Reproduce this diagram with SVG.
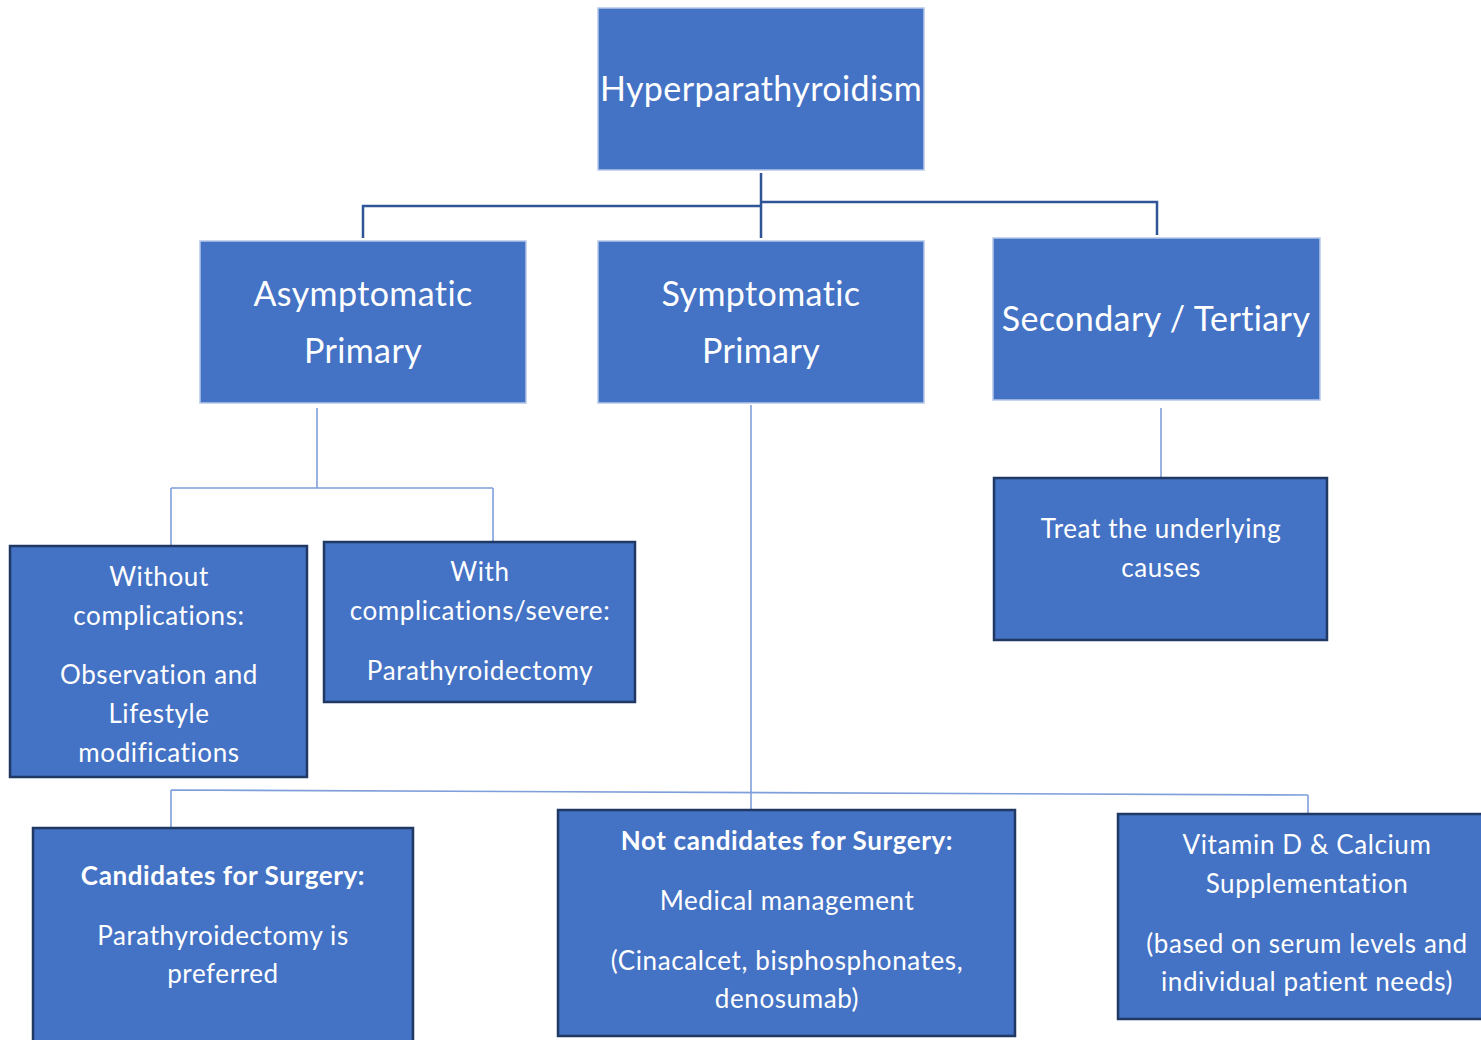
<svg xmlns="http://www.w3.org/2000/svg" width="1481" height="1040" viewBox="0 0 1481 1040">
<style>
.top{fill:#4472C4;stroke:#B4C7E7;stroke-width:1.5}
.box{fill:#4472C4;stroke:#1F3864;stroke-width:2.5}
text{font-family:Lato,"Open Sans",sans-serif;fill:#fff;text-anchor:middle}
.t1{font-size:34px;letter-spacing:0.4px}
.t2{font-size:26px;letter-spacing:0.6px}
.b{font-weight:bold}
.dk{stroke:#2F5597;stroke-width:2.5;fill:none}
.lt{stroke:#7F9FDA;stroke-width:1.6;fill:none}
</style>
<rect width="1481" height="1040" fill="#fff"/>
<g id="connectors">
<path class="dk" d="M761,173V238M761,206H363V238M761,202H1157V235"/>
<path class="lt" d="M317,408V488M171,488H493M171,488V546M493,488V541"/>
<path class="lt" d="M1161,408V478"/>
<path class="lt" d="M751,405V810"/>
<path class="lt" d="M171,790L1308,795M171,790V828M1308,795V813"/>
</g>
<g id="hyper"><rect class="top" x="598" y="8" width="326" height="162"/><text class="t1" x="761" y="101">Hyperparathyroidism</text></g>
<g id="asym"><rect class="top" x="200" y="241" width="326" height="162"/><text class="t1" x="363" y="306">Asymptomatic</text><text class="t1" x="363" y="363">Primary</text></g>
<g id="sym"><rect class="top" x="598" y="241" width="326" height="162"/><text class="t1" x="761" y="306">Symptomatic</text><text class="t1" x="761" y="363">Primary</text></g>
<g id="sec"><rect class="top" x="993" y="238" width="327" height="162"/><text class="t1" x="1156" y="331">Secondary / Tertiary</text></g>
<g id="without"><rect class="box" x="10" y="546" width="297" height="231"/><text class="t2" x="159" y="586">Without</text><text class="t2" x="159" y="625">complications:</text><text class="t2" x="159" y="684">Observation and</text><text class="t2" x="159" y="723">Lifestyle</text><text class="t2" x="159" y="762">modifications</text></g>
<g id="with"><rect class="box" x="324" y="542" width="311" height="160"/><text class="t2" x="480" y="581">With</text><text class="t2" x="480" y="620">complications/severe:</text><text class="t2" x="480" y="680">Parathyroidectomy</text></g>
<g id="treat"><rect class="box" x="994" y="478" width="333" height="162"/><text class="t2" x="1161" y="538">Treat the underlying</text><text class="t2" x="1161" y="577">causes</text></g>
<g id="cand"><rect class="box" x="33" y="828" width="380" height="220"/><text class="t2 b" x="223" y="885">Candidates for Surgery:</text><text class="t2" x="223" y="945">Parathyroidectomy is</text><text class="t2" x="223" y="983">preferred</text></g>
<g id="notcand"><rect class="box" x="558" y="810" width="457" height="226"/><text class="t2 b" x="787" y="850">Not candidates for Surgery:</text><text class="t2" x="787" y="910">Medical management</text><text class="t2" x="787" y="970">(Cinacalcet, bisphosphonates,</text><text class="t2" x="787" y="1008">denosumab)</text></g>
<g id="vit"><rect class="box" x="1118" y="814" width="370" height="205"/><text class="t2" x="1307" y="854">Vitamin D &amp; Calcium</text><text class="t2" x="1307" y="893">Supplementation</text><text class="t2" x="1307" y="953">(based on serum levels and</text><text class="t2" x="1307" y="991">individual patient needs)</text></g>
</svg>
